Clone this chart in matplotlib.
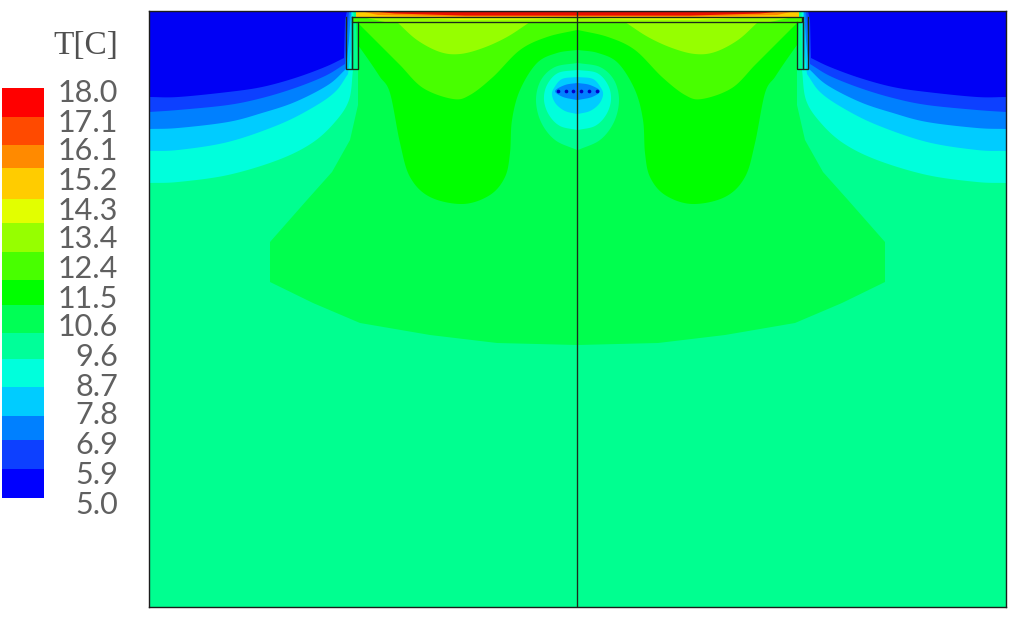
import numpy as np
import matplotlib
matplotlib.use("Agg")
import matplotlib.pyplot as plt

W, H = 1024, 625
X0, X1, Y0, Y1 = 149, 1006, 11, 607
MIRROR = 1155

# ---- legend data ----
tick_labels = ["18.0", "17.1", "16.1", "15.2", "14.3", "13.4", "12.4", "11.5",
               "10.6", "9.6", "8.7", "7.8", "6.9", "5.9", "5.0"]
tick_rows = [93.5, 122.5, 151.5, 181.5, 210.5, 239.5, 269.5, 298.5, 327.5, 357.5, 386.5, 415.5, 445.5, 474.5, 504.5]
band_edges = [88, 117, 145, 168, 199, 223, 252, 280, 305, 333, 359, 387, 416, 440, 469, 498]
band_colors = ["#FF0000", "#FF4A00", "#FF8A00", "#FFCC00", "#E2FF00", "#96FF00", "#48FF00",
               "#00FF00", "#00FF55", "#00FF99", "#00FFDC", "#00CCFF", "#0080FF", "#0D40FF", "#0000FF"]

C_RED, C_ORANGE, C_YEL, C_LIME, C_YG, C_LG, C_G = "#E81000", "#FF8A00", "#FFCC00", "#E2FF00", "#96FF00", "#48FF00", "#00FF00"
C_M, C_BASE, C_CY, C_SKY, C_AZ, C_B, C_DB = "#00FF4E", "#00FF90", "#00FFDC", "#00CCFF", "#0080FF", "#0D40FF", "#0000F5"

# ---- contour boundaries (left half) ----
mid_outline = [(358, 70), (358, 105), (350, 140), (332, 172), (307, 200), (270, 242), (270, 282),
               (313, 303), (360, 323), (430, 335), (497, 343), (577, 345), (577, 22), (356, 22)]
cyan_edge = [(149, 183), (178, 182), (228, 175), (278, 160), (312, 143), (335, 122), (349, 100), (353, 70)]
sky_edge = [(149, 151), (178, 150), (228, 142), (278, 125), (312, 108), (335, 92), (348, 74)]
azure_edge = [(149, 129), (178, 128), (228, 122), (262, 113), (295, 102), (328, 85), (346, 69)]
blue_edge = [(149, 112), (178, 110), (228, 105), (262, 98), (295, 88), (325, 76), (345, 64)]
deep_edge = [(149, 97), (178, 97), (228, 92), (262, 87), (295, 78), (325, 67), (344, 58)]
cyan_top = [(353.5, 11)]
sky_top = [(351, 50), (352, 11)]
azure_top = [(349, 40), (351, 11)]
blue_top = [(347, 35), (349, 11)]
deep_top = [(345, 20), (347, 11)]

lobe_edge = [(358, 45), (370, 62), (380, 77), (390, 93), (400, 143), (410, 177), (430, 197), (463, 204),
             (490, 195), (505, 177), (510, 153), (512, 120), (520, 90), (537, 63), (557, 53), (577, 50)]
warm_edge = [(358, 23), (380, 45), (400, 65), (423, 88), (453, 99), (470, 95), (493, 77), (520, 50), (547, 37), (577, 30)]
lime_edge = [(397, 22), (417, 40), (440, 52), (460, 54), (483, 48), (507, 37), (530, 22)]

ring_base = [(577, 63), (555, 67), (541, 80), (536, 100), (541, 122), (555, 140), (577, 150)]
ring_cyan = [(577, 70), (558, 73), (547, 85), (544, 100), (549, 115), (560, 126), (577, 130)]
ring_sky = [(577, 77), (562, 79), (554, 88), (552, 95), (556, 104), (565, 111), (577, 114)]
ring_azure = [(577, 83), (565, 85), (555, 91), (563, 97), (577, 100)]

strip_yellow = [(356, 11), (356, 17), (577, 17), (577, 11)]
strip_orange = [(360, 11), (378, 15), (465, 16.6), (577, 16.6), (577, 11)]
strip_red = [(368, 11), (395, 13.5), (465, 15.6), (577, 15.6), (577, 11)]
plate_green = [(352, 17), (352, 22), (577, 22), (577, 17)]
plate_yg = [(362, 17), (385, 22), (577, 22), (577, 17)]
plate_lime = [(395, 17), (460, 20), (530, 19.5), (577, 18), (577, 17)]

sensor_x = [558, 566, 573, 581, 589, 597]
sensor_y = [91, 91, 91, 91, 91, 91]

pillar_outer = [(346.5, 17), (346.5, 69), (352, 69), (352, 17)]
pillar_inner = [(352, 22), (352, 69), (358, 69), (358, 22)]
plate_x = [352, 802.5]
plate_y = [17, 22]


def smooth(points, n=12):
    """Catmull-Rom rendering of a boundary so it is drawn as a curve."""
    p = np.array(points, dtype=float)
    q = np.vstack([2 * p[0] - p[1], p, 2 * p[-1] - p[-2]])
    out = []
    for i in range(1, len(q) - 2):
        for t in np.linspace(0, 1, n, endpoint=False):
            out.append(0.5 * ((2 * q[i]) + (-q[i - 1] + q[i + 1]) * t
                              + (2 * q[i - 1] - 5 * q[i] + 4 * q[i + 1] - q[i + 2]) * t ** 2
                              + (-q[i - 1] + 3 * q[i] - 3 * q[i + 1] + q[i + 2]) * t ** 3))
    out.append(p[-1])
    return np.array(out)


fig = plt.figure(figsize=(W / 100, H / 100), dpi=100, facecolor="white")
ax = fig.add_axes([X0 / W, 1 - Y1 / H, (X1 - X0) / W, (Y1 - Y0) / H])
ax.set_xlim(X0, X1)
ax.set_ylim(Y1, Y0)
ax.set_facecolor(C_BASE)
ax.set_xticks([])
ax.set_yticks([])
for s in ax.spines.values():
    s.set_linewidth(1.0)
    s.set_color("#1c1c1c")
    s.set_zorder(10)


def both(xy, color, z):
    xy = np.asarray(xy, dtype=float)
    ax.fill(xy[:, 0], xy[:, 1], color=color, lw=0, zorder=z)
    ax.fill(MIRROR - xy[:, 0], xy[:, 1], color=color, lw=0, zorder=z)


both(mid_outline, C_M, 1)
for edge, top, col in [(cyan_edge, cyan_top, C_CY), (sky_edge, sky_top, C_SKY), (azure_edge, azure_top, C_AZ),
                       (blue_edge, blue_top, C_B), (deep_edge, deep_top, C_DB)]:
    both(np.vstack([smooth(edge), top, [(149, 11)]]), col, 2)

both(np.vstack([smooth(lobe_edge), [(577, 22), (358, 22)]]), C_G, 3)
both(np.vstack([smooth(warm_edge), [(577, 22), (358, 22)]]), C_LG, 4)
both(smooth(lime_edge), C_YG, 5)

for ring, col in [(ring_base, C_BASE), (ring_cyan, C_CY), (ring_sky, C_SKY), (ring_azure, C_AZ)]:
    both(smooth(ring), col, 6)

both(strip_yellow, C_YEL, 7)
both(strip_orange, C_ORANGE, 8)
both(strip_red, C_RED, 9)
both(plate_green, C_LG, 7)
both(plate_yg, C_YG, 8)
both(plate_lime, C_LIME, 9)

ax.scatter(sensor_x, sensor_y, s=7, color="#0000C8", lw=0, zorder=11)

line = dict(color="#1c2a1c", lw=0.95, zorder=12, solid_joinstyle="miter")
ax.plot([577, 577], [Y0, Y1], **line)
ax.plot([plate_x[0], plate_x[1], plate_x[1], plate_x[0], plate_x[0]],
        [plate_y[0], plate_y[0], plate_y[1], plate_y[1], plate_y[0]], **line)
for cell in (pillar_outer, pillar_inner):
    c = np.array(cell)
    ax.plot(c[:, 0], c[:, 1], **line)
    ax.plot(MIRROR - c[:, 0], c[:, 1], **line)

# ---- legend ----
cax = fig.add_axes([2 / W, 1 - 515 / H, 42 / W, 427 / H])
cax.patch.set_visible(False)
cax.set_xlim(0, 1)
for top, bot, col in zip(band_edges[:-1], band_edges[1:], band_colors):
    cax.bar(0.5, bot - top, width=1, bottom=top, color=col, lw=0)
for s in cax.spines.values():
    s.set_visible(False)
cax.set_xticks([])
cax.yaxis.tick_right()
cax.set_yticks(tick_rows)
cax.set_yticklabels(tick_labels, family="Lato", fontweight="normal", fontsize=22, color="#606060")
cax.tick_params(axis="y", length=0, pad=53.5)
cax.set_ylim(515, 88)
for lab in cax.get_yticklabels():
    lab.set_ha("right")
    lab.set_va("center")
fig.text(118 / W, 1 - 46 / H, "T[C]", family="Liberation Serif", fontsize=24, color="#505050",
         ha="right", va="center")

fig.savefig("out.png", dpi=100, facecolor="white")
